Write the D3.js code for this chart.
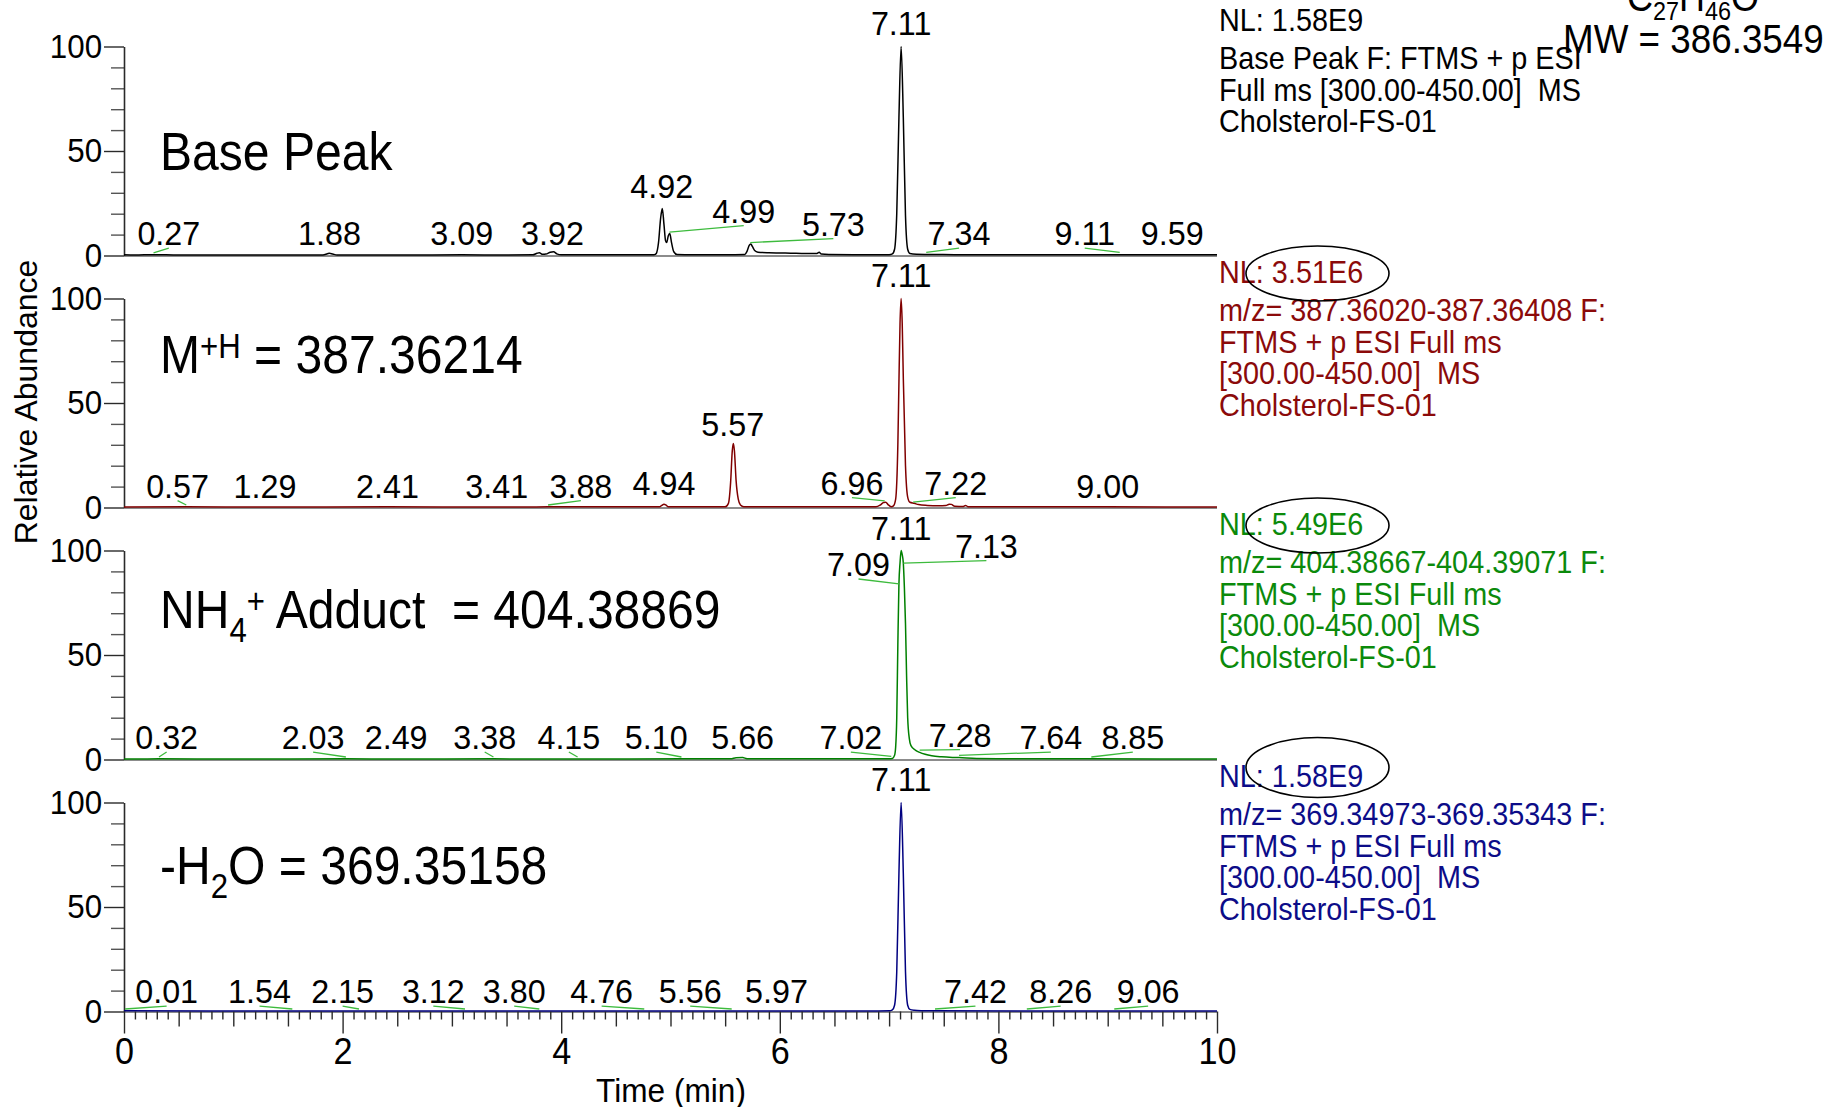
<!DOCTYPE html>
<html>
<head>
<meta charset="utf-8">
<title>Cholesterol extracted ion chromatograms</title>
<script src="https://cdn.jsdelivr.net/npm/d3@7"></script>
<style>
  html, body { margin: 0; padding: 0; background: #fff; }
  svg { display: block; font-family: "Liberation Sans", Arial, Helvetica, sans-serif; }
  text { white-space: pre; }
</style>
</head>
<body>
<svg id="chart" width="1829" height="1107"></svg>
<script>
// ---------------------------------------------------------------------------
// Data: retention time (min) vs relative abundance (%)
// ---------------------------------------------------------------------------
const timeDomain = [0, 10];
const xTickLabels = [0, 2, 4, 6, 8, 10];
const yTickLabels = [0, 50, 100];

// Base peak chromatogram
const basePeakTrace = [
  [0,0.3],[0.1,0.2],[0.27,0.4],[0.5,0.2],[1.0,0.25],[1.5,0.2],[1.82,0.25],[1.86,0.8],[1.88,1.1],
  [1.91,0.7],[1.95,0.25],[2.5,0.2],[3.09,0.3],[3.5,0.25],[3.74,0.3],[3.78,1.1],[3.80,1.3],[3.83,0.6],
  [3.86,0.7],[3.90,1.6],[3.93,1.8],[3.96,0.8],[4.0,0.3],[4.3,0.35],[4.6,0.4],[4.85,0.4],[4.87,1],
  [4.89,6],[4.91,18],[4.925,22.5],[4.94,15],[4.955,7],[4.965,6.2],[4.98,9.5],[4.993,10.5],[5.01,6],
  [5.03,1.8],[5.06,0.5],[5.2,0.4],[5.5,0.4],[5.68,0.5],[5.70,2],[5.72,4.8],[5.735,5.5],[5.75,4.2],
  [5.77,2.4],[5.80,1.6],[5.9,1.3],[6.0,1.2],[6.1,1.1],[6.2,1.0],[6.3,0.9],[6.34,1.0],[6.36,1.5],
  [6.38,0.7],[6.45,0.5],[6.8,0.4],[7.0,0.4],[7.03,0.8],[7.05,3],[7.07,20],[7.09,66],[7.11,100],
  [7.13,66],[7.15,19],[7.17,3],[7.19,1],[7.25,0.6],[7.34,0.5],[7.6,0.4],[8.0,0.35],[8.5,0.3],
  [9.11,0.4],[9.59,0.3],[10,0.3]
];

// [M+H]+ m/z 387.36214
const mhTrace = [
  [0,0.2],[0.57,0.3],[1.29,0.2],[2.41,0.3],[3.41,0.2],[3.88,0.3],[4.5,0.3],[4.90,0.3],[4.92,1.0],
  [4.94,1.5],[4.96,1.1],[4.98,0.3],[5.3,0.3],[5.50,0.3],[5.53,2],[5.55,12],[5.565,27],[5.575,30.6],
  [5.585,27],[5.60,13],[5.62,4],[5.64,1.2],[5.67,0.4],[6.0,0.3],[6.5,0.3],[6.88,0.3],[6.92,1.2],
  [6.95,2.4],[6.97,2.5],[6.99,1.4],[7.02,0.4],[7.04,0.8],[7.06,4],[7.08,30],[7.09,60],[7.10,88],
  [7.11,100],[7.12,88],[7.13,62],[7.15,20],[7.17,5],[7.19,2.5],[7.23,2],[7.27,1.4],[7.35,1],
  [7.45,0.8],[7.52,0.9],[7.55,1.6],[7.57,1.5],[7.60,0.6],[7.68,0.5],[7.70,1.0],[7.72,0.4],
  [8.0,0.3],[9.0,0.3],[10,0.2]
];

// [M+NH4]+ m/z 404.38869
const nh4Trace = [
  [0,0.2],[0.32,0.3],[1.0,0.2],[2.03,0.3],[2.49,0.2],[3.38,0.3],[4.15,0.2],[5.10,0.3],[5.55,0.3],
  [5.60,0.8],[5.66,0.9],[5.70,0.4],[6.0,0.3],[6.5,0.3],[7.0,0.3],[7.03,0.5],[7.05,2],[7.06,6],
  [7.07,20],[7.08,55],[7.09,84],[7.10,94],[7.11,100],[7.12,98],[7.13,94],[7.14,82],[7.15,65],
  [7.16,40],[7.17,20],[7.185,10],[7.20,6.6],[7.24,4.5],[7.28,3.4],[7.33,2.5],[7.39,1.8],[7.48,1.3],
  [7.58,1.0],[7.64,0.9],[7.8,0.5],[8.2,0.3],[8.85,0.3],[10,0.2]
];

// [M+H-H2O]+ m/z 369.35158
const waterLossTrace = [
  [0,0.2],[0.01,0.3],[1.54,0.2],[2.15,0.2],[3.12,0.2],[3.80,0.2],[4.76,0.2],[5.56,0.2],[5.97,0.2],
  [6.8,0.2],[7.0,0.3],[7.03,0.8],[7.05,3],[7.07,19],[7.09,66],[7.11,100],[7.13,66],[7.15,19],
  [7.17,3],[7.19,1],[7.23,0.6],[7.3,0.4],[7.42,0.3],[8.26,0.2],[9.06,0.2],[10,0.2]
];

// Peak labels: rt = labelled retention time, py = abundance at the peak,
// lt = time where the label is anchored, ly = abundance of the label baseline
const basePeakLabels = [
  {rt:"0.27", py:1.2, lt:0.41, ly:5.0}, {rt:"1.88", py:1.1, lt:1.88, ly:5.0},
  {rt:"3.09", py:0.3, lt:3.09, ly:5.0}, {rt:"3.92", py:1.8, lt:3.92, ly:5.0},
  {rt:"4.92", py:22.5, lt:4.92, ly:27.4}, {rt:"4.99", py:11.2, lt:5.67, ly:15.7},
  {rt:"5.73", py:6.2, lt:6.49, ly:9.5}, {rt:"7.11", py:100, lt:7.11, ly:105.6},
  {rt:"7.34", py:1.5, lt:7.64, ly:5.0}, {rt:"9.11", py:1.5, lt:8.79, ly:5.0},
  {rt:"9.59", py:0.3, lt:9.59, ly:5.0}
];
const mhLabels = [
  {rt:"0.57", py:1.2, lt:0.49, ly:4.7}, {rt:"1.29", py:0.2, lt:1.29, ly:4.7},
  {rt:"2.41", py:0.3, lt:2.41, ly:4.7}, {rt:"3.41", py:0.2, lt:3.41, ly:4.7},
  {rt:"3.88", py:1.2, lt:4.18, ly:4.7}, {rt:"4.94", py:1.5, lt:4.94, ly:6.2},
  {rt:"5.57", py:30.6, lt:5.57, ly:34.1}, {rt:"6.96", py:3.2, lt:6.66, ly:6.2},
  {rt:"7.11", py:100, lt:7.11, ly:105.5}, {rt:"7.22", py:2.6, lt:7.61, ly:6.2},
  {rt:"9.00", py:0.3, lt:9.00, ly:4.7}
];
const nh4Labels = [
  {rt:"0.32", py:1.2, lt:0.39, ly:5.0}, {rt:"2.03", py:1.2, lt:1.73, ly:5.0},
  {rt:"2.49", py:0.2, lt:2.49, ly:5.0}, {rt:"3.38", py:1.2, lt:3.30, ly:5.0},
  {rt:"4.15", py:1.2, lt:4.07, ly:5.0}, {rt:"5.10", py:1.2, lt:4.87, ly:5.0},
  {rt:"5.66", py:0.9, lt:5.66, ly:5.0}, {rt:"7.02", py:1.5, lt:6.65, ly:5.0},
  {rt:"7.09", py:84, lt:6.72, ly:87.8}, {rt:"7.11", py:100, lt:7.11, ly:105.0},
  {rt:"7.13", py:94, lt:7.89, ly:96.6}, {rt:"7.28", py:4.5, lt:7.65, ly:6.2},
  {rt:"7.64", py:2.0, lt:8.48, ly:5.0}, {rt:"8.85", py:1.2, lt:9.23, ly:5.0}
];
const waterLossLabels = [
  {rt:"0.01", py:1.2, lt:0.39, ly:4.0}, {rt:"1.54", py:1.2, lt:1.24, ly:4.0},
  {rt:"2.15", py:1.2, lt:2.00, ly:4.0}, {rt:"3.12", py:1.2, lt:2.83, ly:4.0},
  {rt:"3.80", py:1.2, lt:3.57, ly:4.0}, {rt:"4.76", py:1.2, lt:4.37, ly:4.0},
  {rt:"5.56", py:1.2, lt:5.18, ly:4.0}, {rt:"5.97", py:0.2, lt:5.97, ly:4.0},
  {rt:"7.11", py:100, lt:7.11, ly:105.5}, {rt:"7.42", py:1.2, lt:7.79, ly:4.0},
  {rt:"8.26", py:1.2, lt:8.57, ly:4.0}, {rt:"9.06", py:1.2, lt:9.37, ly:4.0}
];

// Normalisation levels and scan filters
const nlValues = ["1.58E9", "3.51E6", "5.49E6", "1.58E9"];
const filterLines = [
  ["Base Peak F: FTMS + p ESI", "Full ms [300.00-450.00]  MS", "Cholsterol-FS-01"],
  ["m/z= 387.36020-387.36408 F:", "FTMS + p ESI Full ms", "[300.00-450.00]  MS", "Cholsterol-FS-01"],
  ["m/z= 404.38667-404.39071 F:", "FTMS + p ESI Full ms", "[300.00-450.00]  MS", "Cholsterol-FS-01"],
  ["m/z= 369.34973-369.35343 F:", "FTMS + p ESI Full ms", "[300.00-450.00]  MS", "Cholsterol-FS-01"]
];

// Panel titles as [text, kind] runs (n = normal, sup, sub)
const panelTitles = [
  [["Base Peak","n"]],
  [["M","n"],["+H","sup"],[" = 387.36214","n"]],
  [["NH","n"],["4","sub"],["+","sup"],[" Adduct  = 404.38869","n"]],
  [["-H","n"],["2","sub"],["O = 369.35158","n"]]
];

// ---------------------------------------------------------------------------
// Layout and style
// ---------------------------------------------------------------------------
const panels = [
  {trace: basePeakTrace,  labels: basePeakLabels,  color: "#000000", textColor: "#000000", ring: null, titleDrop: 123.5},
  {trace: mhTrace,        labels: mhLabels,        color: "#800000", textColor: "#8b0a0a", ring: 2,    titleDrop: 74.5},
  {trace: nh4Trace,       labels: nh4Labels,       color: "#008000", textColor: "#0b8a0b", ring: 2,    titleDrop: 77},
  {trace: waterLossTrace, labels: waterLossLabels, color: "#000080", textColor: "#0c0c88", ring: -8,   titleDrop: 81.5}
];

const W = 1829, H = 1107;
const plotLeft = 124, plotRight = 1217;
const firstTop = 46.5, panelStep = 252, panelH = 209;
const leaderColor = "#3dbb3d";
const axisColor = "#2a2a2a";

const svg = d3.select("#chart");
svg.append("rect").attr("width", W).attr("height", H).attr("fill", "#fff");

const x = d3.scaleLinear().domain(timeDomain).range([plotLeft, plotRight]);

function addText(parent, px, py, str, o = {}) {
  const size = o.size || 32, sx = o.sx || 0.93;
  return parent.append("text")
    .attr("transform", `translate(${px},${py}) scale(${sx},1)`)
    .attr("font-size", size)
    .attr("text-anchor", o.anchor || "start")
    .attr("fill", o.fill || "#000")
    .text(str);
}

panels.forEach((p, i) => {
  const top = firstTop + i * panelStep;
  const zero = top + panelH;
  const y = d3.scaleLinear().domain([0, 100]).range([zero, top]);
  const g = svg.append("g").attr("class", "panel");

  // zero line under the trace
  g.append("line")
    .attr("x1", x(timeDomain[0])).attr("x2", x(timeDomain[1]))
    .attr("y1", zero + 0.5).attr("y2", zero + 0.5)
    .attr("stroke", "#8c8c8c").attr("stroke-width", 2.2);

  // y axis: minor ticks every 10 %, major ticks with labels
  const minor = g.append("g").attr("transform", `translate(${x(0)},0)`)
    .call(d3.axisLeft(y).tickValues(d3.range(10, 100, 10).filter(v => v !== 50))
      .tickSize(13).tickSizeOuter(0).tickFormat(""));
  minor.select(".domain").remove();
  minor.selectAll("line").attr("stroke", "#555").attr("stroke-width", 1.4);

  const major = g.append("g").attr("transform", `translate(${x(0)},0)`)
    .call(d3.axisLeft(y).tickValues(yTickLabels).tickSize(20).tickSizeOuter(0).tickPadding(3));
  major.select(".domain").attr("stroke", axisColor).attr("stroke-width", 1.6);
  major.selectAll("line").attr("stroke", axisColor).attr("stroke-width", 1.4);
  major.selectAll("text")
    .attr("font-size", 33).attr("font-family", null).attr("fill", "#000")
    .attr("transform", "scale(0.95,1)");

  // chromatogram trace
  const line = d3.line()
    .x(d => x(d[0])).y(d => y(d[1]))
    .curve(d3.curveMonotoneX);
  g.append("path").datum(p.trace)
    .attr("d", line).attr("fill", "none")
    .attr("stroke", p.color).attr("stroke-width", 1.5)
    .attr("stroke-linejoin", "round");

  // peak labels with leader lines
  p.labels.forEach(l => {
    const rt = +l.rt;
    if (Math.abs(l.lt - rt) > 0.03) {
      g.append("line")
        .attr("x1", x(rt)).attr("y1", y(l.py))
        .attr("x2", x(l.lt)).attr("y2", y(l.ly) + 3)
        .attr("stroke", leaderColor).attr("stroke-width", 1.3);
    }
    addText(g, x(l.lt), y(l.ly), l.rt, {size: 34, sx: 0.95, anchor: "middle"});
  });

  // panel title with super/subscripts
  const title = g.append("text")
    .attr("transform", `translate(160,${top + p.titleDrop}) scale(0.89,1)`)
    .attr("font-size", 54).attr("fill", "#000");
  let shift = 0;
  panelTitles[i].forEach(([str, kind]) => {
    const target = kind === "sup" ? -15 : kind === "sub" ? 14 : 0;
    title.append("tspan")
      .attr("dy", target - shift)
      .attr("font-size", kind === "n" ? 54 : 35)
      .text(str);
    shift = target;
  });

  // normalisation level and scan filter text
  const tx = 1219;
  const nlBase = top - 16;
  addText(g, tx, nlBase, "NL: " + nlValues[i], {size: 31, sx: 0.93, fill: p.textColor});
  filterLines[i].forEach((s, k) => {
    addText(g, tx, nlBase + 38.5 + 31.5 * k, s, {size: 31, sx: 0.93, fill: p.textColor});
  });
  if (p.ring !== null) {
    g.append("ellipse")
      .attr("cx", 1317.5).attr("cy", nlBase - 11 + p.ring)
      .attr("rx", 71.5).attr("ry", i === 3 ? 30 : 27.5)
      .attr("fill", "none").attr("stroke", "#000").attr("stroke-width", 1.6);
  }

  // time axis on the bottom panel
  if (i === panels.length - 1) {
    const ax = svg.append("g").attr("transform", `translate(0,${zero})`);
    const fine = ax.append("g").call(d3.axisBottom(x)
      .tickValues(d3.range(0, 101).map(v => v / 10).filter(v => Math.round(v * 10) % 5 !== 0))
      .tickSize(8).tickSizeOuter(0).tickFormat(""));
    const half = ax.append("g").call(d3.axisBottom(x)
      .tickValues(d3.range(0, 21).map(v => v / 2).filter(v => v % 2 !== 0))
      .tickSize(15).tickSizeOuter(0).tickFormat(""));
    const main = ax.append("g").call(d3.axisBottom(x)
      .tickValues(xTickLabels).tickSize(22).tickSizeOuter(0).tickPadding(5));
    [fine, half, main].forEach(a => {
      a.select(".domain").remove();
      a.selectAll("line").attr("stroke", axisColor).attr("stroke-width", 1.4);
    });
    main.selectAll("text")
      .attr("font-size", 36).attr("font-family", null).attr("fill", "#000")
      .attr("transform", "scale(0.95,1)");
  }
});

// axis titles
addText(svg, 671, 1102, "Time (min)", {size: 34, sx: 0.93, anchor: "middle"});
svg.append("text")
  .attr("transform", "translate(37,402) rotate(-90)")
  .attr("font-size", 32).attr("text-anchor", "middle").attr("fill", "#000")
  .text("Relative Abundance");

// compound formula and monoisotopic mass
const formula = svg.append("text")
  .attr("transform", "translate(1627,11) scale(0.9,1)")
  .attr("font-size", 40).attr("fill", "#000");
[["C",0],["27",1],["H",0],["46",1],["O",0]].reduce((prev, [s, sub]) => {
  formula.append("tspan").attr("dy", (sub ? 9 : 0) - prev)
    .attr("font-size", sub ? 26 : 40).text(s);
  return sub ? 9 : 0;
}, 0);
addText(svg, 1563, 52.5, "MW = 386.3549", {size: 40, sx: 0.92});
</script>
</body>
</html>
